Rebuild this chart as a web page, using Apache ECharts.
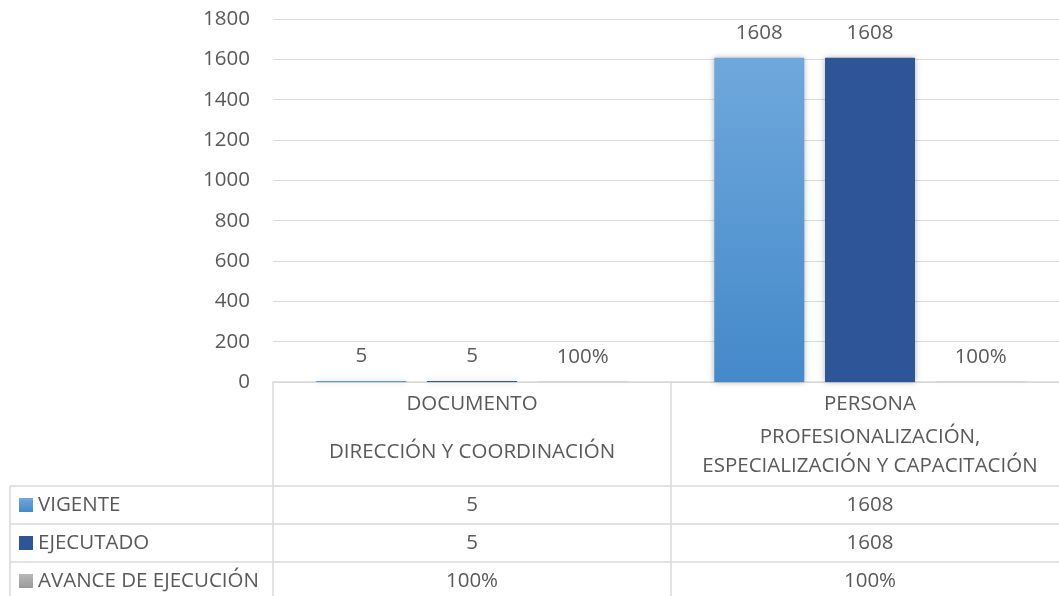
<!DOCTYPE html>
<html>
<head>
<meta charset="utf-8">
<script src="https://cdn.jsdelivr.net/npm/echarts@6/dist/echarts.min.js"></script>
<style>
html,body{margin:0;padding:0;background:#fff;}
#c{width:1059px;height:596px;}
</style>
</head>
<body>
<div id="c"></div>
<script>
// ---- data ----
const categoryTop = ['DOCUMENTO', 'PERSONA'];
const categorySub = ['DIRECCIÓN Y COORDINACIÓN', 'PROFESIONALIZACIÓN,\nESPECIALIZACIÓN Y CAPACITACIÓN'];
const seriesNames = ['VIGENTE', 'EJECUTADO', 'AVANCE DE EJECUCIÓN'];
const vigente = [5, 1608];
const ejecutado = [5, 1608];
const avance = [1, 1]; // 100%
const yMin = 0, yMax = 1800, yStep = 200;

// ---- style ----
const FONT = 'Open Sans';
const TXT = '#595959';
const LINE = '#d9d9d9';
const FS = 20.5;
const grad = (a, b) => new echarts.graphic.LinearGradient(0, 0, 0, 1, [{offset: 0, color: a}, {offset: 1, color: b}]);
const colors = [grad('#6fa8dc', '#4489ca'), '#2e5597', grad('#b7b7b7', '#999999')];
const fmtPct = v => Math.round(v * 100) + '%';
const fontStr = FS + 'px "' + FONT + '"';

const chart = echarts.init(document.getElementById('c'), null, {renderer: 'canvas'});

function mkSeries(name, data, idx, isPct) {
  return {
    name: name,
    type: 'bar',
    data: data,
    barWidth: 90,
    barGap: '23%',
    itemStyle: {
      color: colors[idx],
      shadowBlur: 6,
      shadowColor: 'rgba(0,0,0,0.3)'
    },
    label: {
      show: true,
      position: 'top',
      distance: 14,
      color: TXT,
      fontFamily: FONT,
      fontSize: FS,
      formatter: p => isPct ? fmtPct(p.value) : String(p.value)
    }
  };
}

chart.setOption({
  animation: false,
  textStyle: {fontFamily: FONT},
  grid: {left: 273, top: 19, width: 796, bottom: 214, containLabel: false, outerBoundsMode: 'none'},
  xAxis: {
    type: 'category',
    data: categoryTop,
    axisLine: {show: true, lineStyle: {color: LINE, width: 1.5}},
    axisTick: {show: false},
    axisLabel: {show: false},
    splitLine: {show: false}
  },
  yAxis: {
    type: 'value',
    min: yMin, max: yMax, interval: yStep,
    axisLine: {show: false},
    axisTick: {show: false},
    axisLabel: {color: TXT, fontFamily: FONT, fontSize: FS, margin: 23, formatter: v => String(v)},
    splitLine: {lineStyle: {color: LINE, width: 1.2}}
  },
  series: [
    mkSeries(seriesNames[0], vigente, 0, false),
    mkSeries(seriesNames[1], ejecutado, 1, false),
    mkSeries(seriesNames[2], avance, 2, true)
  ]
});

// ---- data table (built from the same arrays, positioned via axis scale) ----
function buildTable() {
  const g = [];
  const y0 = chart.convertToPixel({yAxisIndex: 0}, 0);
  const centers = categoryTop.map((c, i) => chart.convertToPixel({xAxisIndex: 0}, i));
  const half = (centers[1] - centers[0]) / 2;
  const leftX = centers[0] - half;
  const rightX = centers[centers.length - 1] + half;
  const rowTop = 486, rowH = 38, bottom = 601, tableLeft = 10;
  const lineStyle = {stroke: LINE, lineWidth: 1.5};

  const vx = [leftX];
  for (let i = 0; i < centers.length; i++) vx.push(centers[i] + half);
  vx.forEach(x => g.push({type: 'line', shape: {x1: x, y1: y0, x2: x, y2: bottom}, style: lineStyle, silent: true}));
  g.push({type: 'line', shape: {x1: tableLeft, y1: rowTop, x2: tableLeft, y2: bottom}, style: lineStyle, silent: true});
  for (let r = 0; r < seriesNames.length; r++) {
    const y = rowTop + r * rowH;
    g.push({type: 'line', shape: {x1: tableLeft, y1: y, x2: rightX, y2: y}, style: lineStyle, silent: true});
  }
  centers.forEach((cx, i) => {
    g.push({type: 'text', x: cx, y: 404, style: {text: categoryTop[i], fill: TXT, font: fontStr, align: 'center', verticalAlign: 'middle'}, silent: true});
    g.push({type: 'text', x: cx, y: 452, style: {text: categorySub[i], fill: TXT, font: fontStr, align: 'center', verticalAlign: 'middle', lineHeight: 29}, silent: true});
  });
  const rows = [vigente.map(String), ejecutado.map(String), avance.map(fmtPct)];
  rows.forEach((vals, r) => {
    const cy = rowTop + r * rowH + rowH / 2;
    g.push({type: 'rect', shape: {x: 19, y: cy - 7, width: 14, height: 14}, style: {fill: colors[r]}, silent: true});
    g.push({type: 'text', x: 38, y: cy, style: {text: seriesNames[r], fill: TXT, font: fontStr, align: 'left', verticalAlign: 'middle'}, silent: true});
    vals.forEach((v, i) => {
      g.push({type: 'text', x: centers[i], y: cy, style: {text: v, fill: TXT, font: fontStr, align: 'center', verticalAlign: 'middle'}, silent: true});
    });
  });
  chart.setOption({graphic: g});
}
buildTable();
</script>
</body>
</html>
